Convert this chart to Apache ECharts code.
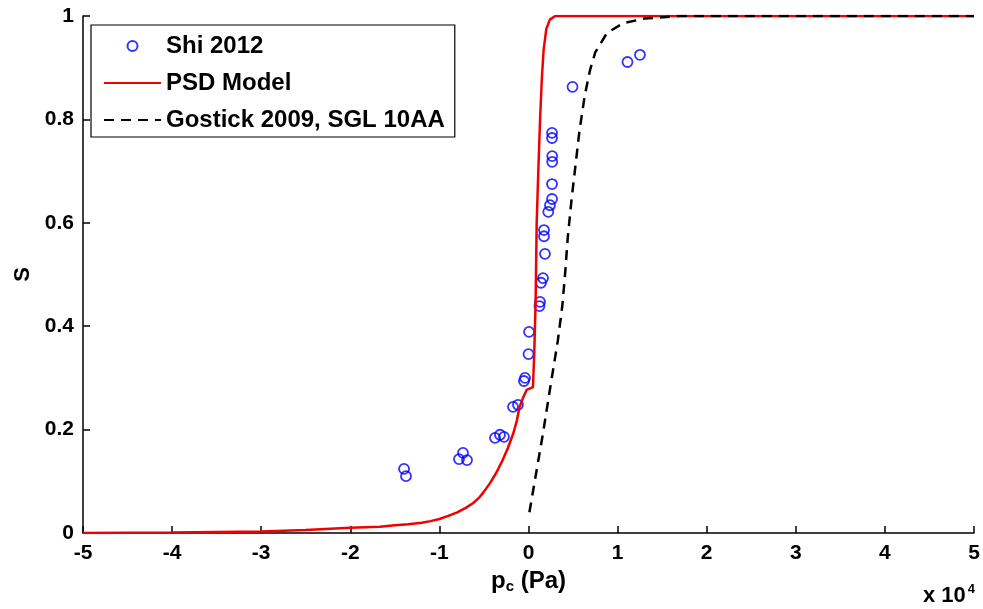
<!DOCTYPE html>
<html>
<head>
<meta charset="utf-8">
<script src="https://cdn.jsdelivr.net/npm/echarts@6/dist/echarts.min.js"></script>
<style>
  html, body { margin: 0; padding: 0; background: #fff; }
  #chart { width: 983px; height: 609px; }
</style>
</head>
<body>
<div id="chart"></div>
<script>
// Capillary pressure (Pa) vs saturation S

// Shi 2012 measurements
const shiPc = [-13970, -13750, -7800, -7350, -6900, -3760, -3200, -2750, -1740, -1180,
               -510, -390, 0, 60, 1230, 1290, 1400, 1630, 1850, 1740, 1740, 2220, 2410,
               2640, 2640, 2660, 2660, 2640, 2640, 4940, 11110, 12510];
const shiS  = [0.124, 0.110, 0.143, 0.155, 0.141, 0.184, 0.190, 0.186, 0.244, 0.248,
               0.294, 0.300, 0.346, 0.389, 0.439, 0.447, 0.484, 0.493, 0.540, 0.574, 0.586,
               0.621, 0.634, 0.646, 0.675, 0.718, 0.729, 0.764, 0.774, 0.863, 0.911, 0.925];

// PSD model curve
const psdPc = [-50000, -40000, -35000, -30000, -25000, -20000, -16700, -15000, -13500, -12000,
               -11000, -10000, -9000, -8000, -7000, -6200, -5500, -5000, -4300, -3600, -2900,
               -2300, -1700, -1300, -1000, -600, -200, 500, 650, 800, 920, 1100,
               1300, 1500, 1700, 2000, 2400, 3000, 50000];
const psdS  = [0, 0.001, 0.002, 0.003, 0.006, 0.010, 0.012, 0.015, 0.017, 0.020,
               0.023, 0.027, 0.033, 0.040, 0.049, 0.058, 0.069, 0.080, 0.097, 0.117, 0.141,
               0.165, 0.193, 0.218, 0.244, 0.262, 0.277, 0.282, 0.350, 0.450, 0.600, 0.700,
               0.800, 0.880, 0.935, 0.975, 0.993, 1.0, 1.0];

// Gostick 2009, SGL 10AA
const gosPc = [100, 900, 1600, 2400, 3300, 3800, 4100, 4400, 4800, 5200, 5700, 6300,
               6900, 7500, 8800, 10600, 13000, 17000, 50000];
const gosS  = [0.040, 0.120, 0.190, 0.277, 0.373, 0.440, 0.500, 0.570, 0.640, 0.700, 0.775, 0.845,
               0.895, 0.930, 0.967, 0.986, 0.995, 1.0, 1.0];

// Axis ticks
const xTicks = { min: -50000, max: 50000, step: 10000, scale: 10000 };
const yTicks = { min: 0, max: 1, step: 0.2 };

const zip = (a, b) => a.map((v, i) => [v, b[i]]);
const FONT = '"Liberation Sans", Arial, sans-serif';
const noMarker = { opacity: 0 };

const chart = echarts.init(document.getElementById('chart'));
chart.setOption({
  animation: false,
  backgroundColor: '#fff',
  grid: { left: 83, right: 9, top: 16, bottom: 76, containLabel: false },
  legend: {
    orient: 'vertical',
    left: 91, top: 25,
    padding: [9, 10, 5, 12],
    itemGap: 13,
    itemWidth: 57,
    itemHeight: 10,
    borderColor: '#000',
    borderWidth: 1.2,
    backgroundColor: '#fff',
    selectedMode: false,
    textStyle: { fontFamily: FONT, fontWeight: 'bold', fontSize: 24, lineHeight: 24, color: '#000' },
    data: [
      { name: 'Shi 2012' },
      { name: 'PSD Model', itemStyle: noMarker },
      { name: 'Gostick 2009, SGL 10AA', itemStyle: noMarker }
    ]
  },
  xAxis: {
    type: 'value',
    min: xTicks.min, max: xTicks.max, interval: xTicks.step,
    name: 'p{sub|c} (Pa)',
    nameLocation: 'middle',
    nameGap: 34,
    nameTextStyle: {
      fontFamily: FONT, fontWeight: 'bold', fontSize: 24, color: '#000',
      rich: { sub: { fontFamily: FONT, fontWeight: 'bold', fontSize: 15, color: '#000', verticalAlign: 'bottom', padding: [12, 0, 0, 0] } }
    },
    axisLine: { onZero: false, lineStyle: { color: '#000', width: 1.5 } },
    axisTick: { inside: true, length: 7, lineStyle: { color: '#000', width: 1.5 } },
    axisLabel: {
      formatter: v => String(v / xTicks.scale),
      fontFamily: FONT, fontWeight: 'bold', fontSize: 21, color: '#000', margin: 10
    },
    splitLine: { show: false }
  },
  yAxis: {
    type: 'value',
    min: yTicks.min, max: yTicks.max, interval: yTicks.step,
    name: 'S',
    nameLocation: 'middle',
    nameGap: 37,
    nameTextStyle: { fontFamily: FONT, fontWeight: 'bold', fontSize: 22, color: '#000' },
    axisLine: { onZero: false, lineStyle: { color: '#000', width: 1.5 } },
    axisTick: { inside: true, length: 7, lineStyle: { color: '#000', width: 1.5 } },
    axisLabel: {
      formatter: v => (v === 0 || v === 1) ? String(v) : v.toFixed(1),
      fontFamily: FONT, fontWeight: 'bold', fontSize: 21, color: '#000', margin: 9
    },
    splitLine: { show: false }
  },
  graphic: [{
    type: 'text',
    right: 8, bottom: 2,
    style: {
      text: 'x 10{sup|4}',
      font: 'bold 22px ' + FONT,
      fill: '#000',
      rich: { sup: { font: 'bold 13px ' + FONT, fill: '#000', verticalAlign: 'top', padding: [0, 0, 14, 2] } }
    }
  }],
  series: [
    {
      name: 'Shi 2012',
      type: 'scatter',
      data: zip(shiPc, shiS),
      symbol: 'circle',
      symbolSize: 10,
      itemStyle: { color: 'rgba(0,0,0,0)', borderColor: '#0000ff', borderWidth: 1.8 }
    },
    {
      name: 'PSD Model',
      type: 'line',
      data: zip(psdPc, psdS),
      symbol: 'none',
      showSymbol: false,
      lineStyle: { color: '#f00000', width: 2.5 },
      itemStyle: { color: '#f00000' }
    },
    {
      name: 'Gostick 2009, SGL 10AA',
      type: 'line',
      data: zip(gosPc, gosS),
      symbol: 'none',
      showSymbol: false,
      lineStyle: { color: '#000', width: 2.5, type: [10, 7] },
      itemStyle: { color: '#000' }
    }
  ]
});
</script>
</body>
</html>
